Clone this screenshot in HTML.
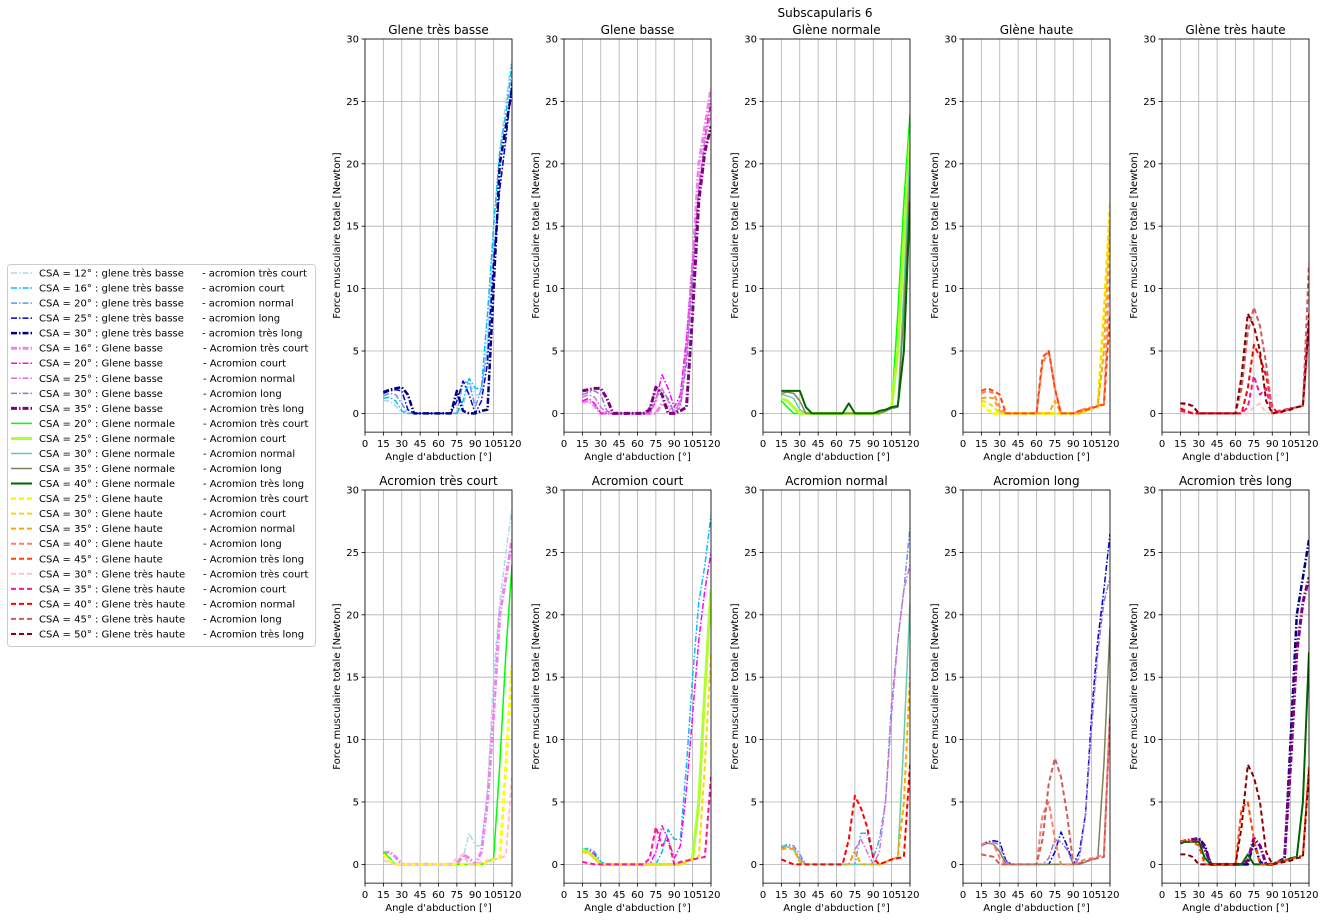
<!DOCTYPE html>
<html><head><meta charset="utf-8"><style>
body{margin:0;background:#fff;}
svg{display:block;font-family:"DejaVu Sans","Liberation Sans",sans-serif;}
</style></head><body>
<svg id="fig" width="1325" height="920" viewBox="0 0 1325 920" xmlns="http://www.w3.org/2000/svg">
<rect width="1325" height="920" fill="#fff"/>
<text x="825" y="17" font-size="12" text-anchor="middle">Subscapularis 6</text>
</svg>
<script>
const xAngles=[15,20,25,30,35,40,45,50,55,60,65,70,75,80,85,90,95,100,105,110,115,120];
const topTitles=["Glene très basse","Glene basse","Glène normale","Glène haute","Glène très haute"];
const bottomTitles=["Acromion très court","Acromion court","Acromion normal","Acromion long","Acromion très long"];
const xTicks=[0,15,30,45,60,75,90,105,120];
const yTicks=[0,5,10,15,20,25,30];
const gleneNames=["glene très basse","Glene basse","Glene normale","Glene haute","Glene très haute"];
const acroNamesLower=["acromion très court","acromion court","acromion normal","acromion long","acromion très long"];
const acroNamesUpper=["Acromion très court","Acromion court","Acromion normal","Acromion long","Acromion très long"];
const csaValues=[[12,16,20,25,30],[16,20,25,30,35],[20,25,30,35,40],[25,30,35,40,45],[30,35,40,45,50]];
const colors=[["#add8e6","#00bfff","#6495ed","#0000cd","#000080"],
["#ee82ee","#ff00ff","#da70d6","#9370db","#800080"],
["#00ff00","#adff2f","#66cdaa","#808060","#006400"],
["#ffff00","#ffd700","#ffa500","#fa8072","#ff4500"],
["#ffc0cb","#ff1493","#ff0000","#cd5c5c","#8b0000"]];
// series values (g = glene, a = acromion), at xAngles
const s00=[1.0,1.0,0.6,0,0,0,0,0,0,0,0,0,0,0.5,2.5,1.5,1.5,6,15,21,25,28.5];
const s01=[1.2,1.3,1.0,0.2,0,0,0,0,0,0,0,0,0,1,2.8,2,2,8,15,21,24,28];
const s02=[1.4,1.6,1.5,0.8,0,0,0,0,0,0,0,0,0,2.5,2.5,0.5,2,5,13,18,22,27];
const s03=[1.6,1.8,1.9,1.8,0.3,0,0,0,0,0,0,0,1,2.6,1.5,0,1,4,12,18,22,26.5];
const s04=[1.7,1.9,2.0,2.1,1.5,0,0,0,0,0,0,0,1.8,0.2,0,0,0.2,0.3,10,20,23,26];
const s10=[0.9,1.0,0.6,0,0,0,0,0,0,0,0,0,0,0.8,0.5,0,1,5,12,20,23,26];
const s11=[1.0,1.2,0.8,0,0,0,0,0,0,0,0,0,1,3.1,2,0.5,1.5,6,12,18,22,25];
const s12=[1.3,1.5,1.3,0.5,0,0,0,0,0,0,0,0,1.2,2,1,0,1,5,12,18,22,24];
const s13=[1.5,1.7,1.8,1.5,0.2,0,0,0,0,0,0,0.5,2,1.8,1.2,0,0.5,4,11,17,21,23];
const s14=[1.8,1.9,2.0,2.0,1.2,0,0,0,0,0,0,0.3,2.1,1.5,0,0,0.2,0.5,8,17,21,23];
const s20=[1.0,0.5,0,0,0,0,0,0,0,0,0,0,0,0,0,0,0,0.2,0.5,8,17,24];
const s21=[1.2,1.0,0.5,0,0,0,0,0,0,0,0,0,0,0,0,0,0,0.2,0.5,5,14,22];
const s22=[1.5,1.4,1.2,0.3,0,0,0,0,0,0,0,0,0,0,0,0,0,0.2,0.4,0.5,10,21];
const s23=[1.6,1.7,1.6,1.0,0,0,0,0,0,0,0,0,0,0,0,0,0,0.2,0.4,0.5,8,19];
const s24=[1.8,1.8,1.8,1.8,0.5,0,0,0,0,0,0,0.8,0,0,0,0,0.2,0.3,0.5,0.6,5,17];
const s30=[0.8,0.3,0,0,0,0,0,0,0,0,0,0,0,0,0,0,0,0.2,0.4,0.5,8,16];
const s31=[1.0,0.9,0.5,0,0,0,0,0,0,0,0,0,0,0,0,0,0,0.2,0.4,0.6,8,17];
const s32=[1.2,1.3,1.2,0.2,0,0,0,0,0,0,0,0,1.0,0,0,0,0,0.2,0.4,0.6,5,15];
const s33=[1.6,1.8,1.6,0.5,0,0,0,0,0,0,4,5,2,0,0,0,0.2,0.4,0.5,0.6,0.8,12];
const s34=[1.8,2.0,1.8,1.5,0,0,0,0,0,0,4.5,5,2,0,0,0,0.2,0.3,0.4,0.6,0.7,8];
const s40=[0.3,0.2,0,0,0,0,0,0,0,0,0,0,0.5,0.8,0,0,0.2,0.3,0.4,0.5,0.7,7];
const s41=[0.2,0.1,0,0,0,0,0,0,0,0,0,0.5,3,1.5,2,0,0.2,0.3,0.4,0.5,0.6,7];
const s42=[0.4,0.2,0,0,0,0,0,0,0,0,0,2,5.5,4.5,3,0.5,0,0.2,0.4,0.5,0.6,8];
const s43=[0.8,0.7,0.6,0,0,0,0,0,0,0,2,6.5,8.5,7,4,0,0.1,0.2,0.4,0.5,0.6,12];
const s44=[0.8,0.8,0.6,0,0,0,0,0,0,0,3,8,7,5,1,0,0.1,0.2,0.3,0.5,0.6,7.5];
const seriesValues=[[s00,s01,s02,s03,s04],[s10,s11,s12,s13,s14],[s20,s21,s22,s23,s24],[s30,s31,s32,s33,s34],[s40,s41,s42,s43,s44]];

const NS="http://www.w3.org/2000/svg";
const svg=document.getElementById('fig');
function el(tag,attrs,parent){const e=document.createElementNS(NS,tag);for(const k in attrs)e.setAttribute(k,attrs[k]);(parent||svg).appendChild(e);return e;}
const dashes=["6,2,1.5,2","6,2,1.5,2","","5,3","5,3"];
const widths=[[1.5,1.5,1.5,1.5,2.5],[3,1.5,1.5,1.5,3],[1.5,3,1.5,1.5,2],[3,2,2,2,2],[2,2,2,2,2]];
const colLefts=[365,564,763,963,1162];
const W=147, PPU=12.48;
const rowY30=[39,490];

function drawPanel(row,col,title,list){
  const L=colLefts[col], top=rowY30[row], y0=top+30*PPU, bottom=y0+1.5*PPU;
  const sx=v=>L+v/120*W, sy=v=>y0-v*PPU;
  const g=el('g',{});
  
  
  xTicks.forEach(t=>{
    const l=el('line',{x1:sx(t),x2:sx(t),y1:top,y2:bottom,stroke:'#b0b0b0','stroke-width':0.8},g);
    
    el('line',{x1:sx(t),x2:sx(t),y1:bottom,y2:bottom+3.5,stroke:'#000','stroke-width':0.8},g);
    const tx=el('text',{x:sx(t),y:bottom+15,'font-size':10,'text-anchor':'middle'},g);tx.textContent=t;
    
  });
  yTicks.forEach(t=>{
    const l=el('line',{x1:L,x2:L+W,y1:sy(t),y2:sy(t),stroke:'#b0b0b0','stroke-width':0.8},g);
    
    el('line',{x1:L-3.5,x2:L,y1:sy(t),y2:sy(t),stroke:'#000','stroke-width':0.8},g);
    const tx=el('text',{x:L-6,y:sy(t)+3.5,'font-size':10,'text-anchor':'end'},g);tx.textContent=t;
    
  });
  const cid='clip'+row+col;
  const cp=el('clipPath',{id:cid},g);el('rect',{x:L,y:top,width:W,height:bottom-top},cp);
  const lg=el('g',{'clip-path':'url(#'+cid+')'},g);
  list.forEach(([gi,ai])=>{
    const vals=seriesValues[gi][ai];
    const d=vals.map((v,i)=>(i?'L':'M')+sx(xAngles[i]).toFixed(1)+','+sy(v).toFixed(1)).join(' ');
    const p=el('path',{d:d,fill:'none',stroke:colors[gi][ai],'stroke-width':widths[gi][ai],'stroke-dasharray':dashes[gi],'stroke-linejoin':'round'},lg);
    
    
  });
  const fr=el('rect',{x:L,y:top,width:W,height:bottom-top,fill:'none',stroke:'#000','stroke-width':0.8},g);
  
  const tt=el('text',{x:L+W/2,y:top-5,'font-size':12,'text-anchor':'middle'},g);tt.textContent=title;
  
  const xl=el('text',{x:L+W/2,y:bottom+28,'font-size':10,'text-anchor':'middle'},g);xl.textContent="Angle d'abduction [°]";
  
  const cy=(top+bottom)/2;
  const yl=el('text',{x:L-25,y:cy,'font-size':10,'text-anchor':'middle',transform:'rotate(-90 '+(L-25)+' '+cy+')'},g);yl.textContent="Force musculaire totale [Newton]";
  
}
for(let c=0;c<5;c++){
  drawPanel(0,c,topTitles[c],[0,1,2,3,4].map(a=>[c,a]));
  drawPanel(1,c,bottomTitles[c],[0,1,2,3,4].map(g=>[g,c]));
}
// legend
const lgd=el('g',{});


el('rect',{x:7.5,y:264.5,width:308,height:382,rx:3,fill:'#fff',stroke:'#ccc'},lgd);
for(let gi=0;gi<5;gi++)for(let ai=0;ai<5;ai++){
  const i=gi*5+ai, y=273+i*15.04;
  const e=el('g',{},lgd);
  
  
  el('line',{x1:11,x2:32,y1:y,y2:y,stroke:colors[gi][ai],'stroke-width':widths[gi][ai],'stroke-dasharray':dashes[gi]},e);
  const t=el('text',{x:39,y:y+3.5,'font-size':10},e);
  t.textContent='CSA = '+csaValues[gi][ai]+'° : '+gleneNames[gi];
  const t2=el('text',{x:gi===0?202:203,y:y+3.5,'font-size':10},e);
  t2.textContent='-  '+(gi===0?acroNamesLower[ai]:acroNamesUpper[ai]);
}
</script>
</body></html>
